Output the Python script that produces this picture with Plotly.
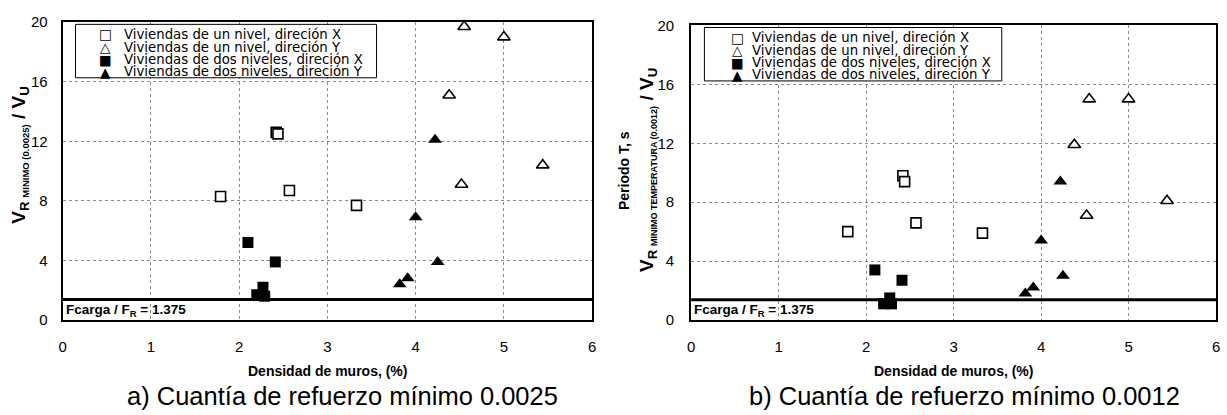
import plotly.graph_objects as go

# ---- data -------------------------------------------------------------
# wall density (%) of each dwelling, per group
dens_un_x = [1.79, 2.42, 2.44, 2.57, 3.33]
dens_un_y = [4.38, 4.52, 4.55, 5.00, 5.44]
dens_dos_x = [2.10, 2.20, 2.27, 2.29, 2.41]
dens_dos_y = [3.82, 3.91, 4.00, 4.22, 4.25]

# V_R / V_U with minimum reinforcement ratio 0.0025
r25_un_x = [8.3, 12.6, 12.5, 8.7, 7.7]
r25_un_y = [15.1, 9.1, 19.7, 19.0, 10.4]
r25_dos_x = [5.2, 1.7, 2.2, 1.6, 3.9]
r25_dos_y = [2.4, 2.8, 6.9, 12.1, 3.9]

# V_R / V_U with minimum temperature reinforcement ratio 0.0012
r12_un_x = [6.0, 9.8, 9.4, 6.6, 5.9]
r12_un_y = [11.9, 7.1, 15.0, 15.0, 8.1]
r12_dos_x = [3.4, 1.1, 1.5, 1.1, 2.7]
r12_dos_y = [1.8, 2.2, 5.4, 9.4, 3.0]

FCARGA = 1.375

series_names = [
    "Viviendas de un nivel, direción X",
    "Viviendas de un nivel, direción Y",
    "Viviendas de dos niveles, direción X",
    "Viviendas de dos niveles, direción Y",
]
legend_glyphs = ["\u25a1", "\u25b3", "\u25a0", "\u25b2"]

x_ticks = [0, 1, 2, 3, 4, 5, 6]
y_ticks = [0, 4, 8, 12, 16, 20]

# ---- page geometry ----------------------------------------------------
W, H = 1227, 415
FONT = "Arial, 'Liberation Sans', sans-serif"
WIDE_FONT = "'DejaVu Sans', Verdana, sans-serif"


def px(x):
    return x / W


def py(y):
    return 1 - y / H


marker_styles = [
    dict(symbol="square", size=10, color="white", line=dict(color="black", width=1.6)),
    dict(symbol="triangle-up", size=11, color="white", line=dict(color="black", width=1.6)),
    dict(symbol="square", size=11, color="black", line=dict(color="black", width=0)),
    dict(symbol="triangle-up", size=12, color="black", line=dict(color="black", width=0)),
]

fig = go.Figure()

densities = [dens_un_x, dens_un_y, dens_dos_x, dens_dos_y]
panels = [
    ("x", "y", [r25_un_x, r25_un_y, r25_dos_x, r25_dos_y]),
    ("x2", "y2", [r12_un_x, r12_un_y, r12_dos_x, r12_dos_y]),
]
for xa, ya, ratios in panels:
    for name, dens, vals, mk in zip(series_names, densities, ratios, marker_styles):
        fig.add_trace(go.Scatter(
            x=dens, y=vals, mode="markers", name=name,
            marker=mk, xaxis=xa, yaxis=ya, showlegend=False,
            hoverinfo="x+y+name",
        ))

axis_common = dict(
    showgrid=True, gridcolor="#8a8a8a", griddash="dot", gridwidth=1,
    showline=True, linecolor="black", linewidth=2, mirror=True,
    zeroline=False, ticks="", tickfont=dict(family=FONT, size=15, color="black"),
)

fig.update_layout(
    width=W, height=H,
    margin=dict(l=0, r=0, t=0, b=0),
    paper_bgcolor="white", plot_bgcolor="white",
    showlegend=False,
    font=dict(family=FONT, color="black"),
    xaxis=dict(domain=[px(59), px(592)], anchor="y", range=[0, 6],
               tickvals=x_ticks, ticklabelstandoff=12, **axis_common),
    yaxis=dict(domain=[py(324.3), py(13.8)], anchor="x", range=[0, 20],
               tickvals=y_ticks, ticklabelstandoff=10, **axis_common),
    xaxis2=dict(domain=[px(691.7), px(1220)], anchor="y2", range=[0, 6],
                tickvals=x_ticks, ticklabelstandoff=12, **axis_common),
    yaxis2=dict(domain=[py(324.3), py(17.2)], anchor="x2", range=[0, 20],
                tickvals=y_ticks, ticklabelstandoff=12, **axis_common),
)

shapes = []
annotations = []

# load-ratio reference line and its label on both panels
for xa, ya, in [("x", "y"), ("x2", "y2")]:
    shapes.append(dict(type="line", xref=f"{xa} domain", yref=ya,
                       x0=0, x1=1, y0=FCARGA, y1=FCARGA,
                       line=dict(color="black", width=3)))
    annotations.append(dict(xref=xa, yref=ya, x=0, y=FCARGA, xanchor="left", yanchor="top",
                            xshift=1, yshift=0, showarrow=False,
                            text="<b>Fcarga / F<sub>R</sub> = 1.375</b>",
                            font=dict(family=FONT, size=13.5, color="black")))

# legend boxes
legend_boxes = [
    dict(x0=72, x1=375, y0=16, y1=71.7, glyph_x=101.7, text_x=119, rows=[26.5, 39.8, 53, 65.5]),
    dict(x0=705, x1=1004.3, y0=19.3, y1=75, glyph_x=738.3, text_x=751, rows=[30, 43, 56.3, 68.8]),
]
for box in legend_boxes:
    shapes.append(dict(type="rect", xref="paper", yref="paper",
                       x0=px(box["x0"]), x1=px(box["x1"]),
                       y0=py(box["y1"]), y1=py(box["y0"]),
                       line=dict(color="black", width=1), fillcolor="white", layer="above"))
    for glyph, name, row in zip(legend_glyphs, series_names, box["rows"]):
        annotations.append(dict(xref="paper", yref="paper", x=px(box["glyph_x"]), y=py(row),
                                xanchor="center", yanchor="middle", showarrow=False, text=glyph,
                                font=dict(family=WIDE_FONT, size=13.5, color="black")))
        annotations.append(dict(xref="paper", yref="paper", x=px(box["text_x"]), y=py(row),
                                xanchor="left", yanchor="middle", showarrow=False, text=name,
                                font=dict(family=WIDE_FONT, size=13.3, color="black")))

# axis titles
for cx in (325.5, 955.8):
    annotations.append(dict(xref="paper", yref="paper", x=px(cx), y=py(377),
                            xanchor="center", yanchor="middle", showarrow=False,
                            text="<b>Densidad de muros, (%)</b>",
                            font=dict(family=FONT, size=14, color="black")))

annotations.append(dict(
    xref="paper", yref="paper", x=px(16), y=py(152), xanchor="center", yanchor="middle",
    showarrow=False, textangle=-90,
    text="<b>V<sub>R <span style='font-size:9.5px'>MINIMO (0.0025)</span></sub> / V<sub>U</sub></b>",
    font=dict(family=FONT, size=19, color="black")))
annotations.append(dict(
    xref="paper", yref="paper", x=px(624), y=py(168), xanchor="center", yanchor="middle",
    showarrow=False, textangle=-90, text="<b>Periodo T, s</b>",
    font=dict(family=FONT, size=14, color="black")))
annotations.append(dict(
    xref="paper", yref="paper", x=px(648), y=py(168), xanchor="center", yanchor="middle",
    showarrow=False, textangle=-90,
    text="<b>V<sub>R <span style='font-size:9px'>MINIMO TEMPERATURA (0.0012)</span></sub> / V<sub>U</sub></b>",
    font=dict(family=FONT, size=19, color="black")))

# panel captions
annotations.append(dict(xref="paper", yref="paper", x=px(341), y=py(403.5),
                        xanchor="center", yanchor="middle", showarrow=False,
                        text="a) Cuantía de refuerzo mínimo 0.0025",
                        font=dict(family=FONT, size=25.5, color="black")))
annotations.append(dict(xref="paper", yref="paper", x=px(966.7), y=py(403.5),
                        xanchor="center", yanchor="middle", showarrow=False,
                        text="b) Cuantía de refuerzo mínimo 0.0012",
                        font=dict(family=FONT, size=25.5, color="black")))

fig.update_layout(shapes=shapes, annotations=annotations)

fig.write_html("out.html")
